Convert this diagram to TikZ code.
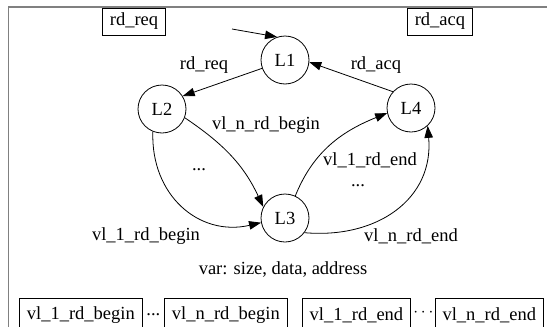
\documentclass[tikz,border=0pt]{standalone}
\usepackage{fontspec}
\setmainfont{Liberation Serif}
\usetikzlibrary{arrows.meta,positioning}
\newcommand{\figfont}{\fontsize{18.5}{22}\selectfont}
\tikzset{
  statecircle/.style={draw,circle,minimum size=48pt,inner sep=0pt,line width=0.8pt,font=\figfont},
  signalbox/.style={draw,line width=0.8pt,inner xsep=7.5pt,inner ysep=0pt,font=\figfont},
  transarrow/.style={-{Triangle[length=12pt,width=8.5pt]},line width=0.8pt},
  edgelabel/.style={inner sep=0pt,font=\figfont},
  framegray/.style={draw=black!50,line width=1.8pt}
}
\begin{document}
\begin{tikzpicture}[x=1pt,y=1pt]
  \useasboundingbox (0,0) rectangle (547,-327);
  \draw[framegray] (8.5,-345) -- (8.5,-7) -- (560,-7);
  % signals at the top
  \node[signalbox,minimum height=27pt] (reqsig) at (134,-21.5) {rd\_req};
  \node[signalbox,minimum height=27pt] (acqsig) at (440,-21.5) {rd\_acq};
  % states
  \node[statecircle] (L1) at (285,-60) {L1};
  \node[statecircle] (L2) at (162,-109) {L2};
  \node[statecircle] (L3) at (285,-218) {L3};
  \node[statecircle] (L4) at (411,-108) {L4};
  \coordinate (start) at (232,-29);
  \draw[transarrow] (start) -- (L1.109);
  \draw[transarrow] (L1.200) -- (L2.32);
  \draw[transarrow] (L4.138) -- (L1.-5);
  \draw[transarrow] (L2.-21) to[out=-34,in=115] (L3.153);
  \draw[transarrow] (L2.-112) to[out=-92,in=193,looseness=1.15] (L3.191);
  \draw[transarrow] (L3.65) to[out=68,in=202] (L4.192);
  \draw[transarrow] (L3.-37) to[out=-5,in=-85,looseness=1.15] (L4.-47);
  % labels
  \node[edgelabel] (reqlbl) at (204,-65) {rd\_req};
  \node[edgelabel] (acqlbl) at (376,-65) {rd\_acq};
  \node[edgelabel] (begnlbl) at (266,-125) {vl\_n\_rd\_begin};
  \node[edgelabel] (begdotslbl) at (199,-170) {...};
  \node[edgelabel] (beg1lbl) at (146,-236) {vl\_1\_rd\_begin};
  \node[edgelabel] (end1lbl) at (370,-160) {vl\_1\_rd\_end};
  \node[edgelabel] (enddotslbl) at (358,-186) {...};
  \node[edgelabel] (endnlbl) at (411,-236) {vl\_n\_rd\_end};
  \node[edgelabel] (varlbl) at (283,-270) {var: size, data, address};
  % signals at the bottom
  \node[signalbox,minimum height=34pt,anchor=west] (beg1sig) at (19,-315) {vl\_1\_rd\_begin};
  \node[edgelabel,right=3.5pt of beg1sig] (begdots) {...};
  \node[signalbox,minimum height=34pt,right=3.5pt of begdots] (begnsig) {vl\_n\_rd\_begin};
  \node[signalbox,minimum height=34pt,anchor=east] (endnsig) at (544,-315) {vl\_n\_rd\_end};
  \node[edgelabel,left=1pt of endnsig,yshift=2pt] (enddots) {$\cdots$};
  \node[signalbox,minimum height=34pt,left=2pt of enddots,yshift=-2pt] (end1sig) {vl\_1\_rd\_end};
\end{tikzpicture}
\end{document}
